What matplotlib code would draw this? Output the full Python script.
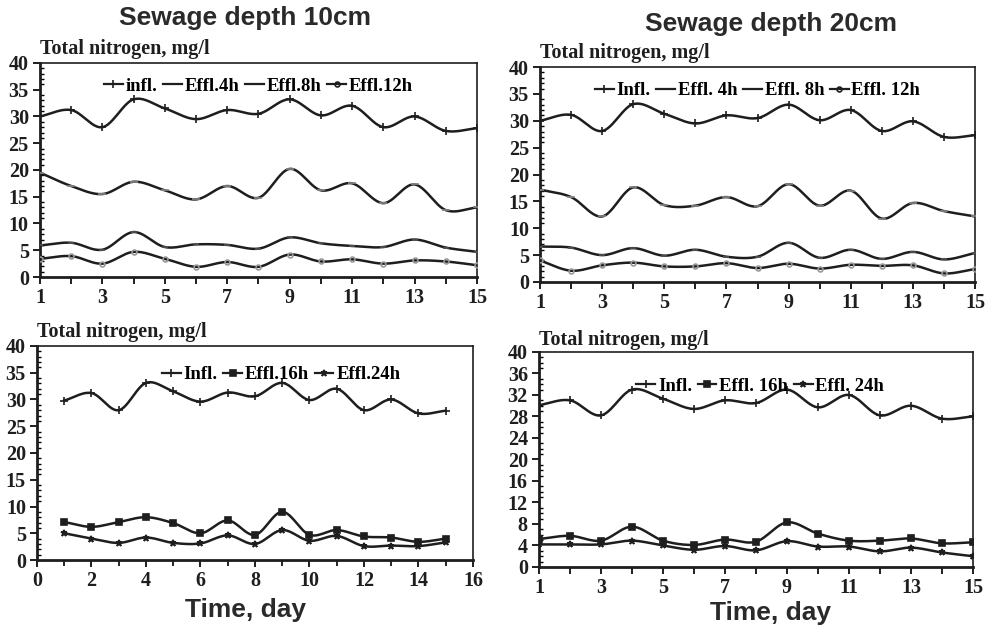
import matplotlib.pyplot as plt
import numpy as np
from matplotlib.ticker import MultipleLocator

# ---- data ----
days = list(range(1, 16))

# sewage depth 10 cm
d10_infl = [30.0, 31.2, 28.0, 33.2, 31.5, 29.5, 31.2, 30.5, 33.2, 30.2, 32.0, 28.0, 30.0, 27.3, 27.8]
d10_e4 = [19.5, 17.0, 15.5, 17.8, 16.2, 14.5, 17.0, 14.8, 20.2, 16.2, 17.5, 13.8, 17.3, 12.5, 13.0]
d10_e8 = [5.9, 6.4, 5.1, 8.4, 5.6, 6.1, 6.0, 5.3, 7.4, 6.3, 5.8, 5.6, 7.0, 5.5, 4.7]
d10_e12 = [3.4, 3.9, 2.5, 4.7, 3.4, 1.9, 2.8, 1.9, 4.2, 2.9, 3.3, 2.5, 3.1, 2.9, 2.2]
d10_infl_b = [29.8, 31.2, 28.0, 33.1, 31.5, 29.6, 31.3, 30.6, 33.1, 29.9, 32.0, 28.0, 30.0, 27.4, 27.9]
d10_e16 = [7.1, 6.2, 7.1, 8.0, 6.9, 5.0, 7.4, 4.7, 9.0, 4.7, 5.6, 4.4, 4.2, 3.4, 4.0]
d10_e24 = [5.0, 4.0, 3.2, 4.2, 3.2, 3.1, 4.6, 3.0, 5.6, 3.6, 4.5, 2.6, 2.7, 2.6, 3.3]

# sewage depth 20 cm
d20_infl = [30.0, 31.1, 28.1, 33.1, 31.3, 29.5, 31.0, 30.5, 33.0, 30.1, 32.0, 28.1, 29.9, 27.0, 27.3]
d20_e4 = [17.2, 15.8, 12.2, 17.6, 14.3, 14.2, 15.8, 14.1, 18.2, 14.2, 17.0, 11.8, 14.7, 13.2, 12.2]
d20_e8 = [6.6, 6.4, 5.0, 6.3, 4.9, 6.0, 4.7, 4.7, 7.3, 4.5, 6.0, 4.3, 5.6, 4.2, 5.4]
d20_e12 = [4.0, 2.1, 3.1, 3.6, 2.9, 2.9, 3.5, 2.6, 3.4, 2.5, 3.2, 3.0, 3.1, 1.6, 2.4]
d20_infl_b = [30.1, 31.0, 28.2, 33.0, 31.3, 29.4, 31.0, 30.5, 33.0, 29.7, 32.0, 28.2, 30.0, 27.6, 28.0]
d20_e16 = [5.2, 5.8, 4.9, 7.5, 4.9, 4.1, 5.1, 4.7, 8.3, 6.2, 4.9, 4.9, 5.3, 4.4, 4.6]
d20_e24 = [4.2, 4.2, 4.2, 4.9, 4.0, 3.2, 3.9, 3.1, 4.8, 3.8, 3.8, 2.9, 3.6, 2.7, 2.0]

SERIF = 'Liberation Serif'
SANS = 'Liberation Sans'
INK = '#1e1e1e'


def smooth(x, y, n=24):
    # Catmull-Rom curve through the points (Excel-style smoothed line)
    x = np.asarray(x, float)
    y = np.asarray(y, float)
    px = np.concatenate([[2 * x[0] - x[1]], x, [2 * x[-1] - x[-2]]])
    py = np.concatenate([[2 * y[0] - y[1]], y, [2 * y[-1] - y[-2]]])
    t = np.linspace(0, 1, n, endpoint=False)
    xs, ys = [], []
    for i in range(1, len(px) - 2):
        for p, out in ((px, xs), (py, ys)):
            p0, p1, p2, p3 = p[i - 1], p[i], p[i + 1], p[i + 2]
            out.extend(0.5 * (2 * p1 + (-p0 + p2) * t + (2 * p0 - 5 * p1 + 4 * p2 - p3) * t ** 2
                              + (-p0 + 3 * p1 - 3 * p2 + p3) * t ** 3))
    xs.append(x[-1])
    ys.append(y[-1])
    return np.array(xs), np.array(ys)


def draw_series(ax, y, label, marker, mcolor, ms):
    sx, sy = smooth(days, y)
    ax.plot(sx, sy, color=INK, lw=1.8, zorder=3)
    ax.plot(days, y, ls='none', marker=marker, color=mcolor, ms=ms, mew=1.2,
            mfc='none' if marker == 'o' else mcolor, zorder=4)
    # proxy for the legend
    ax.plot([], [], color=INK, lw=1.6, marker=marker, ms=ms, mew=1.2, mec=INK,
            mfc='none' if marker == 'o' else INK, label=label)


def style_axes(ax, xlim, xmajor, xlabels_step, ymax, ymajor):
    ax.set_xlim(*xlim)
    ax.set_ylim(0, ymax)
    ax.xaxis.set_major_locator(MultipleLocator(xmajor))
    ax.yaxis.set_major_locator(MultipleLocator(ymajor))
    ax.yaxis.set_minor_locator(MultipleLocator(1))
    ticks = np.arange(xlim[0], xlim[1] + 0.5, xmajor)
    ax.set_xticks(ticks)
    ax.set_xticklabels([str(int(v)) if (v - xlim[0]) % xlabels_step == 0 else '' for v in ticks])
    ax.tick_params(axis='both', which='major', direction='out', length=5, width=1.4,
                   labelsize=14.5, pad=3, colors=INK)
    ax.tick_params(axis='y', which='minor', direction='in', length=3, width=1.0)
    ax.tick_params(axis='x', which='minor', length=0)
    for lab in ax.get_xticklabels() + ax.get_yticklabels():
        lab.set_fontfamily(SERIF)
        lab.set_fontweight('bold')
    for sp in ax.spines.values():
        sp.set_linewidth(1.2)
        sp.set_color(INK)
    ax.spines['left'].set_linewidth(2.0)
    ax.spines['bottom'].set_linewidth(2.0)


def add_legend(ax, xc, yt):
    ax.legend(loc='upper center', bbox_to_anchor=(xc, yt), ncol=4, frameon=False,
              handlelength=1.0, handletextpad=0.15, columnspacing=0.3, borderaxespad=0,
              prop={'family': SERIF, 'weight': 'bold', 'size': 13.5})


fig = plt.figure(figsize=(9.92, 6.39), dpi=100)
fig.patch.set_facecolor('white')

ax1 = fig.add_axes([0.0403, 0.5665, 0.4405, 0.335])
ax2 = fig.add_axes([0.5444, 0.5587, 0.4385, 0.3364])
ax3 = fig.add_axes([0.0373, 0.1236, 0.4395, 0.335])
ax4 = fig.add_axes([0.5433, 0.1127, 0.4375, 0.3365])

# top row: 4h/8h/12h
for ax, infl, e4, e8, e12, lab_in, lab4, lab8, lab12 in (
        (ax1, d10_infl, d10_e4, d10_e8, d10_e12, 'infl.', 'Effl.4h', 'Effl.8h', 'Effl.12h'),
        (ax2, d20_infl, d20_e4, d20_e8, d20_e12, 'Infl.', 'Effl. 4h', 'Effl. 8h', 'Effl. 12h')):
    draw_series(ax, infl, lab_in, '+', INK, 6)
    draw_series(ax, e4, lab4, '_', '#888888', 6)
    draw_series(ax, e8, lab8, '_', '#555555', 5)
    draw_series(ax, e12, lab12, 'o', '#999999', 3.5)
    style_axes(ax, (1, 15), 1, 2, 40, 5)
    add_legend(ax, 0.50, 0.965)

# bottom row: 16h/24h
draw_series(ax3, d10_infl_b, 'Infl.', '+', INK, 6)
draw_series(ax3, d10_e16, 'Effl.16h', 's', INK, 4)
draw_series(ax3, d10_e24, 'Effl.24h', '*', INK, 4.5)
style_axes(ax3, (0, 16), 1, 2, 40, 5)
ax3.set_xticks(np.arange(0, 17, 2))
ax3.set_xticklabels([str(v) for v in range(0, 17, 2)], fontfamily=SERIF, fontweight='bold')
ax3.xaxis.set_minor_locator(MultipleLocator(1))
ax3.tick_params(axis='x', which='minor', direction='out', length=4, width=1.2)
add_legend(ax3, 0.56, 0.94)

draw_series(ax4, d20_infl_b, 'Infl.', '+', INK, 6)
draw_series(ax4, d20_e16, 'Effl. 16h', 's', INK, 4)
draw_series(ax4, d20_e24, 'Effl. 24h', '*', INK, 4.5)
style_axes(ax4, (1, 15), 1, 2, 40, 4)
add_legend(ax4, 0.51, 0.915)

# y-axis captions above each panel
for ax, dy in ((ax1, 0.02), (ax2, 0.02), (ax3, 0.02), (ax4, 0.01)):
    ax.text(0.0, 1.0 + dy, 'Total nitrogen, mg/l', transform=ax.transAxes, ha='left', va='bottom',
            fontfamily=SERIF, fontweight='bold', fontsize=14.5, color=INK)

fig.text(0.247, 0.972, 'Sewage depth 10cm', ha='center', va='center',
         fontfamily=SANS, fontweight='bold', fontsize=19, color='#2a2a2a')
fig.text(0.777, 0.962, 'Sewage depth 20cm', ha='center', va='center',
         fontfamily=SANS, fontweight='bold', fontsize=19, color='#2a2a2a')
fig.text(0.247, 0.045, 'Time, day', ha='center', va='center',
         fontfamily=SANS, fontweight='bold', fontsize=19, color='#2a2a2a')
fig.text(0.777, 0.040, 'Time, day', ha='center', va='center',
         fontfamily=SANS, fontweight='bold', fontsize=19, color='#2a2a2a')

fig.savefig('out.png', dpi=100, facecolor='white')
